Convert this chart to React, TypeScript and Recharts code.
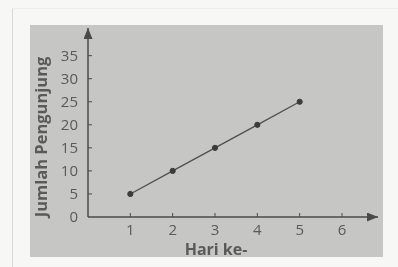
import React from 'react';
import { LineChart, Line, XAxis, YAxis } from 'recharts';

const days = [1, 2, 3, 4, 5];
const visitors = [5, 10, 15, 20, 25];
const xTicks = [1, 2, 3, 4, 5, 6];
const yTicks = [0, 5, 10, 15, 20, 25, 30, 35];
const xTitle = 'Hari ke-';
const yTitle = 'Jumlah Pengunjung';

const data = days.map((d, i) => ({ day: d, visitors: visitors[i] }));

const FONT = '"Open Sans", "Noto Sans", sans-serif';
const TEXT = '#5a5a5a';
const INK = '#4a4a4a';

const YTick = (props: any) => {
  const { x, y, payload } = props;
  return (
    <g>
      {payload.value !== 0 && <line x1={x} x2={x + 4} y1={y} y2={y} stroke={INK} strokeWidth={1} />}
      <text x={x - 10} y={y} dy={5} textAnchor="end" fill={TEXT} fontSize={15} fontFamily={FONT}>
        {payload.value}
      </text>
    </g>
  );
};

const XTick = (props: any) => {
  const { x, y, payload } = props;
  return (
    <g>
      <line x1={x} x2={x} y1={y} y2={y - 4} stroke={INK} strokeWidth={1} />
      <text x={x} y={y + 18} textAnchor="middle" fill={TEXT} fontSize={15} fontFamily={FONT}>
        {payload.value}
      </text>
    </g>
  );
};

export default function App() {
  return (
    <div
      style={{
        position: 'absolute',
        left: 0,
        top: 0,
        width: 398,
        height: 267,
        background: '#f7f7f5',
        overflow: 'hidden',
        filter: 'blur(0.6px)',
      }}
    >
      <svg width={0} height={0} style={{ position: 'absolute' }}>
        <defs>
          <marker
            id="arrowHead"
            markerUnits="userSpaceOnUse"
            markerWidth={12}
            markerHeight={10}
            refX={11}
            refY={4.5}
            orient="auto-start-reverse"
          >
            <path d="M0,0 L11,4.5 L0,9 z" fill={INK} />
          </marker>
        </defs>
      </svg>
      <div style={{ position: 'absolute', left: 12, top: 8, width: 1, height: 259, background: '#d8d8d8' }} />
      <div style={{ position: 'absolute', left: 12, top: 8, width: 386, height: 1, background: '#ececec' }} />
      <div
        style={{
          position: 'absolute',
          left: 30,
          top: 25,
          width: 353,
          height: 232,
          background: '#c6c6c4',
        }}
      />
      <div style={{ position: 'absolute', left: 0, top: 0 }}>
        <LineChart
          width={398}
          height={267}
          data={data}
          margin={{ top: 28, right: 20, bottom: 49, left: 87 }}
        >
          <XAxis
            dataKey="day"
            type="number"
            domain={[0, 6.85]}
            ticks={xTicks}
            height={1}
            tickSize={0}
            tickMargin={0}
            tickLine={false}
            tick={<XTick />}
            axisLine={{ stroke: INK, strokeWidth: 1.5, markerEnd: 'url(#arrowHead)' } as any}
            allowDataOverflow
          />
          <YAxis
            type="number"
            domain={[0, 41]}
            ticks={yTicks}
            width={1}
            tickSize={0}
            tickMargin={0}
            tickLine={false}
            tick={<YTick />}
            axisLine={{ stroke: INK, strokeWidth: 1.5, markerStart: 'url(#arrowHead)' } as any}
            allowDataOverflow
          />
          <Line
            dataKey="visitors"
            stroke="#505050"
            strokeWidth={1.3}
            dot={{ r: 2.6, fill: '#3c3c3c', stroke: '#3c3c3c', strokeWidth: 1 }}
            isAnimationActive={false}
          />
        </LineChart>
      </div>
      <div
        style={{
          position: 'absolute',
          left: 40,
          top: 137,
          transform: 'translate(-50%, -50%) rotate(-90deg)',
          whiteSpace: 'nowrap',
          fontFamily: FONT,
          fontWeight: 700,
          fontSize: 16.5,
          color: TEXT,
        }}
      >
        {yTitle}
      </div>
      <div
        style={{
          position: 'absolute',
          left: 216,
          top: 249,
          transform: 'translate(-50%, -50%)',
          whiteSpace: 'nowrap',
          fontFamily: FONT,
          fontWeight: 700,
          fontSize: 16,
          lineHeight: '18px',
          color: TEXT,
        }}
      >
        {xTitle}
      </div>
    </div>
  );
}
